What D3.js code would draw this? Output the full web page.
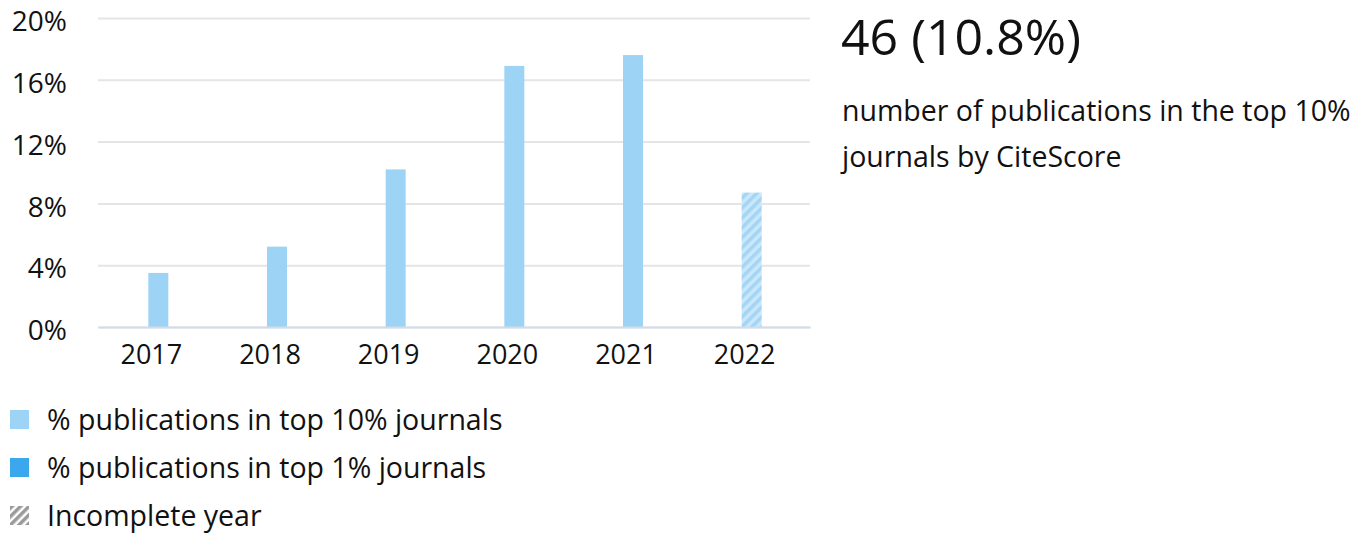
<!DOCTYPE html>
<html>
<head>
<meta charset="utf-8">
<script src="https://cdn.jsdelivr.net/npm/d3@7"></script>
<style>
  body { margin: 0; background: #fff; }
  svg { font-family: "Open Sans", sans-serif; }
</style>
</head>
<body>
<svg id="chart" width="1364" height="533"></svg>
<script>
// chart data
const years = ["2017", "2018", "2019", "2020", "2021", "2022"];
const top10Share = [3.5, 5.2, 10.2, 16.9, 17.6, 8.7];
const incompleteYears = ["2022"];
const yTicks = [0, 4, 8, 12, 16, 20];
const legendItems = ["% publications in top 10% journals", "% publications in top 1% journals", "Incomplete year"];
const headline = "46 (10.8%)";
const subtitleLines = ["number of publications in the top 10%", "journals by CiteScore"];

const svg = d3.select("#chart");
svg.selectAll("*").remove();

const margin = { top: 18, right: 554, bottom: 206, left: 98 },
  width = 1364 - margin.left - margin.right,
  height = 533 - margin.top - margin.bottom;

// hatch pattern for incomplete year
const defs = svg.append("defs");
const hatch = defs.append("pattern")
  .attr("id", "hatch")
  .attr("patternUnits", "userSpaceOnUse")
  .attr("width", 7).attr("height", 7)
  .attr("patternTransform", "rotate(45)");
hatch.append("rect").attr("width", 7).attr("height", 7).attr("fill", "#cbe8fa");
hatch.append("rect").attr("width", 3.5).attr("height", 7).attr("fill", "#a3d5f6");

const hatchGrey = defs.append("pattern")
  .attr("id", "hatchGrey")
  .attr("patternUnits", "userSpaceOnUse")
  .attr("width", 6).attr("height", 6)
  .attr("patternTransform", "rotate(45)");
hatchGrey.append("rect").attr("width", 6).attr("height", 6).attr("fill", "#fff");
hatchGrey.append("rect").attr("width", 3.5).attr("height", 6).attr("fill", "#9a9a9a");

const x = d3.scaleBand().domain(years).range([0, width]);
const y = d3.scaleLinear().domain([0, 20]).range([height, 0]);

const g = svg.append("g")
  .attr("transform", "translate(" + margin.left + "," + margin.top + ")");

// gridlines
g.append("g")
  .call(d3.axisLeft(y).tickValues(yTicks).tickSize(-width).tickFormat(""))
  .call(a => a.select(".domain").remove())
  .call(a => a.selectAll(".tick line").attr("stroke", "#e5e5e5").attr("stroke-width", 2));

// y labels
g.append("g")
  .attr("transform", "translate(-28,0)")
  .call(d3.axisLeft(y).tickValues(yTicks).tickSize(0).tickFormat(d => d + "%"))
  .call(a => a.select(".domain").remove())
  .call(a => a.selectAll("text")
    .attr("font-family", "Open Sans, sans-serif")
    .attr("font-size", 28).attr("fill", "#111").attr("dy", "0.45em"));

// bars
const barW = 20;
g.selectAll(".bar")
  .data(years)
  .join("rect")
  .attr("class", "bar")
  .attr("x", (d) => x(d) + x.bandwidth() / 2 - barW / 2 + 1)
  .attr("width", barW)
  .attr("y", (d, i) => y(top10Share[i]))
  .attr("height", (d, i) => height - y(top10Share[i]))
  .attr("fill", (d) => incompleteYears.includes(d) ? "url(#hatch)" : "#9dd4f6");

// x axis baseline and labels
g.append("g")
  .attr("transform", "translate(0," + height + ")")
  .call(d3.axisBottom(x).tickSize(0).tickPadding(18))
  .call(a => a.select(".domain").attr("stroke", "#d3dbea").attr("stroke-width", 2))
  .call(a => a.selectAll("text")
    .attr("font-family", "Open Sans, sans-serif")
    .attr("dx", -6)
    .attr("font-size", 27).attr("fill", "#111"));

// headline + subtitle
svg.append("text")
  .attr("x", 841).attr("y", 55)
  .attr("font-size", 50).attr("fill", "#111")
  .text(headline);

svg.selectAll(".sub")
  .data(subtitleLines)
  .join("text")
  .attr("class", "sub")
  .attr("x", 842)
  .attr("y", (d, i) => 121 + i * 46)
  .attr("font-size", 28.5).attr("fill", "#111")
  .text(d => d);

// legend
const legendFills = ["#9dd4f6", "#3ba8ee", "url(#hatchGrey)"];
const legend = svg.append("g").attr("transform", "translate(10,410)");
const item = legend.selectAll(".item")
  .data(legendItems)
  .join("g")
  .attr("class", "item")
  .attr("transform", (d, i) => "translate(0," + i * 48 + ")");
item.append("rect")
  .attr("width", 19).attr("height", 19)
  .attr("fill", (d, i) => legendFills[i]);
item.append("text")
  .attr("x", 37).attr("y", 20)
  .attr("font-size", 28.5).attr("fill", "#111")
  .text(d => d);
</script>
</body>
</html>
